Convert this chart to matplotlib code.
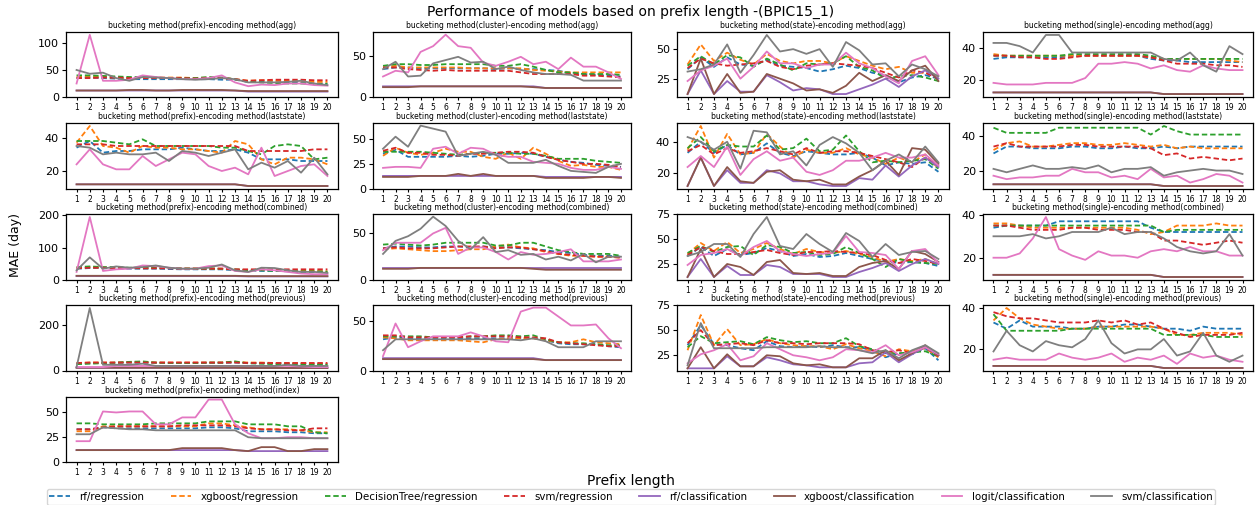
import matplotlib
matplotlib.use("Agg")
import matplotlib.pyplot as plt
from matplotlib.lines import Line2D

prefix_lengths = list(range(1, 21))
series_names = ["rf/regression", "xgboost/regression", "DecisionTree/regression", "svm/regression",
                "rf/classification", "xgboost/classification", "logit/classification", "svm/classification"]
series_colors = ["#1f77b4", "#ff7f0e", "#2ca02c", "#d62728", "#9467bd", "#8c564b", "#e377c2", "#7f7f7f"]
series_styles = ["--", "--", "--", "--", "-", "-", "-", "-"]

L12 = [12] * 13 + [11] * 7

# order: rf_reg, xgb_reg, dt_reg, svm_reg, rf_cls, xgb_cls, logit_cls, svm_cls
prefix_agg = [
    [35, 36, 35, 34, 33, 33, 33, 33, 33, 33, 33, 32, 32, 28, 28, 27, 27, 26, 25, 25],
    [37, 38, 37, 36, 35, 36, 36, 36, 36, 35, 36, 35, 33, 30, 31, 30, 30, 29, 28, 28],
    [40, 40, 39, 38, 37, 37, 36, 35, 35, 35, 37, 36, 33, 28, 27, 26, 25, 25, 24, 24],
    [35, 35, 36, 36, 35, 35, 35, 35, 35, 34, 35, 35, 33, 30, 31, 32, 32, 32, 31, 31],
    [12, 12, 12, 12, 12, 12, 12, 12, 12, 12, 12, 12, 12, 10, 10, 10, 10, 10, 10, 10],
    [12, 12, 12, 12, 13, 13, 12, 12, 13, 13, 13, 13, 12, 11, 11, 11, 11, 11, 11, 11],
    [25, 115, 30, 30, 32, 40, 37, 35, 33, 33, 35, 40, 27, 20, 23, 22, 25, 25, 22, 21],
    [50, 43, 45, 35, 30, 37, 36, 35, 33, 32, 33, 35, 33, 27, 27, 27, 28, 30, 25, 22],
]
cluster_agg = [
    [34, 36, 36, 35, 35, 35, 35, 35, 35, 34, 35, 34, 34, 33, 32, 29, 28, 27, 26, 25],
    [36, 38, 36, 36, 36, 36, 36, 35, 35, 35, 35, 35, 33, 32, 31, 30, 30, 30, 30, 30],
    [38, 40, 40, 39, 39, 40, 40, 40, 40, 38, 38, 40, 37, 33, 30, 30, 28, 28, 28, 27],
    [36, 36, 34, 33, 32, 33, 32, 32, 32, 32, 32, 30, 28, 28, 28, 28, 26, 26, 25, 24],
    [13, 13, 13, 13, 13, 13, 13, 13, 13, 13, 13, 13, 13, 11, 11, 11, 11, 11, 11, 11],
    [12, 12, 12, 13, 13, 13, 13, 13, 13, 13, 13, 13, 12, 11, 11, 11, 11, 11, 11, 11],
    [25, 32, 30, 55, 62, 76, 62, 60, 42, 38, 43, 49, 40, 43, 34, 48, 37, 37, 30, 22],
    [34, 43, 25, 26, 41, 45, 49, 42, 43, 34, 37, 33, 30, 28, 28, 27, 20, 20, 20, 20],
]
state_agg = [
    [33, 43, 35, 43, 37, 36, 41, 36, 35, 34, 31, 33, 36, 34, 30, 28, 22, 26, 28, 25],
    [37, 54, 40, 47, 41, 37, 46, 40, 38, 40, 40, 38, 44, 40, 36, 33, 35, 30, 30, 27],
    [36, 44, 37, 45, 43, 35, 42, 37, 32, 38, 37, 38, 44, 35, 32, 25, 27, 28, 26, 23],
    [34, 42, 38, 36, 37, 38, 40, 35, 33, 36, 37, 38, 37, 36, 34, 30, 26, 32, 30, 25],
    [12, 32, 12, 23, 14, 14, 28, 22, 15, 17, 16, 12, 12, 16, 20, 25, 18, 27, 32, 25],
    [12, 42, 12, 29, 13, 14, 29, 25, 21, 15, 16, 13, 19, 30, 23, 28, 23, 32, 36, 23],
    [23, 32, 36, 42, 25, 35, 48, 38, 38, 34, 37, 37, 47, 38, 34, 27, 21, 40, 44, 28],
    [31, 33, 37, 54, 30, 45, 62, 48, 50, 46, 50, 35, 56, 49, 37, 38, 27, 37, 33, 27],
]
single_agg = [
    [33, 34, 34, 34, 34, 34, 35, 35, 35, 35, 35, 35, 33, 32, 32, 31, 31, 31, 31, 31],
    [36, 35, 35, 35, 35, 35, 35, 35, 35, 35, 35, 35, 34, 33, 33, 33, 33, 33, 32, 31],
    [35, 35, 35, 35, 35, 35, 36, 36, 36, 36, 36, 36, 35, 33, 33, 33, 33, 33, 33, 33],
    [35, 35, 34, 34, 33, 33, 34, 35, 35, 35, 35, 35, 34, 32, 30, 30, 30, 29, 29, 28],
    L12,
    L12,
    [18, 17, 17, 17, 18, 18, 18, 21, 30, 30, 31, 30, 27, 29, 26, 25, 29, 27, 26, 26],
    [43, 43, 41, 37, 48, 48, 37, 37, 37, 37, 37, 37, 37, 33, 32, 37, 29, 25, 41, 36],
]
prefix_laststate = [
    [34, 38, 31, 32, 32, 33, 33, 33, 34, 33, 32, 32, 33, 31, 27, 27, 27, 26, 26, 26],
    [37, 47, 35, 34, 31, 35, 34, 34, 33, 33, 32, 31, 38, 36, 27, 24, 28, 28, 27, 24],
    [38, 38, 38, 37, 36, 39, 35, 35, 35, 35, 35, 34, 34, 32, 30, 35, 36, 35, 27, 28],
    [36, 36, 36, 35, 35, 35, 35, 35, 35, 35, 35, 35, 35, 32, 32, 32, 32, 32, 33, 33],
    L12,
    L12,
    [24, 33, 24, 21, 21, 29, 23, 27, 31, 30, 23, 20, 22, 18, 34, 17, 20, 23, 24, 17],
    [35, 34, 30, 31, 30, 30, 31, 26, 32, 31, 29, 31, 33, 21, 25, 22, 26, 19, 28, 18],
]
cluster_laststate = [
    [35, 39, 32, 32, 32, 32, 33, 32, 33, 35, 35, 36, 35, 32, 29, 27, 26, 24, 23, 22],
    [33, 41, 36, 34, 36, 40, 37, 37, 32, 30, 36, 30, 41, 35, 28, 23, 24, 22, 22, 19],
    [37, 37, 37, 37, 36, 35, 34, 35, 36, 36, 36, 35, 35, 33, 30, 30, 30, 28, 27, 26],
    [38, 41, 36, 36, 34, 34, 33, 35, 35, 36, 37, 37, 36, 32, 29, 27, 25, 25, 24, 22],
    [13, 13, 13, 13, 13, 13, 13, 13, 13, 13, 13, 13, 13, 12, 12, 12, 12, 12, 12, 12],
    [12, 12, 12, 13, 13, 13, 15, 13, 15, 13, 13, 13, 13, 11, 11, 11, 11, 12, 12, 11],
    [21, 22, 22, 21, 40, 42, 35, 41, 40, 34, 32, 32, 27, 26, 25, 21, 19, 19, 22, 20],
    [40, 52, 42, 63, 60, 57, 33, 35, 37, 34, 26, 26, 26, 29, 23, 18, 17, 16, 22, 25],
]
state_laststate = [
    [33, 40, 33, 38, 32, 33, 39, 33, 31, 34, 33, 32, 32, 33, 30, 25, 27, 26, 27, 21],
    [35, 50, 30, 45, 32, 33, 45, 37, 30, 35, 33, 33, 36, 32, 30, 26, 30, 27, 32, 23],
    [36, 43, 34, 38, 37, 37, 44, 35, 36, 42, 34, 35, 44, 34, 27, 28, 27, 28, 29, 23],
    [34, 38, 32, 36, 33, 34, 36, 34, 32, 36, 33, 34, 34, 33, 31, 29, 27, 24, 30, 25],
    [12, 30, 12, 22, 14, 14, 22, 20, 15, 15, 13, 12, 12, 17, 16, 25, 18, 25, 30, 24],
    [12, 30, 12, 24, 15, 14, 21, 22, 16, 15, 16, 13, 13, 18, 22, 28, 19, 36, 35, 26],
    [24, 31, 24, 37, 19, 29, 34, 28, 30, 21, 19, 22, 28, 28, 30, 33, 30, 30, 32, 25],
    [43, 40, 35, 40, 23, 47, 46, 32, 34, 25, 38, 43, 39, 33, 22, 28, 32, 27, 37, 27],
]
single_laststate = [
    [30, 34, 34, 33, 33, 33, 34, 34, 33, 33, 34, 33, 33, 34, 33, 34, 34, 34, 34, 34],
    [32, 36, 37, 34, 34, 35, 36, 36, 35, 35, 36, 35, 34, 35, 33, 34, 33, 33, 33, 33],
    [45, 42, 42, 42, 42, 45, 45, 45, 45, 45, 45, 45, 41, 46, 43, 41, 41, 41, 41, 41],
    [34, 36, 34, 34, 34, 34, 35, 35, 34, 34, 34, 34, 33, 29, 30, 27, 28, 27, 26, 27],
    L12,
    L12,
    [17, 15, 16, 16, 17, 17, 21, 19, 19, 16, 17, 15, 21, 16, 17, 13, 15, 18, 17, 13],
    [21, 19, 21, 23, 21, 21, 22, 21, 23, 19, 21, 21, 22, 17, 19, 20, 21, 20, 20, 18],
]
prefix_combined = [
    [35, 37, 37, 35, 35, 35, 35, 34, 33, 33, 33, 33, 30, 30, 28, 28, 27, 25, 25, 24],
    [38, 40, 38, 38, 37, 38, 38, 37, 36, 36, 36, 35, 32, 31, 32, 31, 30, 28, 28, 27],
    [40, 42, 40, 40, 38, 38, 38, 37, 36, 35, 35, 35, 33, 30, 30, 28, 28, 27, 27, 26],
    [36, 38, 38, 37, 37, 36, 36, 36, 35, 35, 35, 35, 33, 33, 33, 33, 33, 33, 33, 33],
    L12,
    [13, 13, 13, 13, 13, 13, 13, 13, 13, 13, 13, 13, 13, 12, 12, 12, 12, 12, 12, 12],
    [25, 195, 28, 33, 35, 45, 43, 38, 35, 35, 43, 45, 28, 25, 33, 30, 25, 20, 18, 18],
    [30, 70, 35, 42, 38, 40, 45, 38, 35, 35, 38, 48, 30, 25, 38, 37, 30, 25, 25, 22],
]
cluster_combined = [
    [34, 36, 36, 35, 35, 36, 36, 35, 36, 35, 35, 34, 33, 32, 30, 29, 27, 26, 26, 25],
    [33, 34, 33, 32, 31, 31, 32, 33, 33, 36, 38, 35, 34, 30, 28, 26, 26, 25, 25, 24],
    [38, 39, 38, 37, 38, 40, 40, 40, 40, 37, 37, 40, 40, 36, 32, 30, 28, 28, 28, 26],
    [34, 35, 34, 34, 34, 35, 36, 36, 36, 34, 35, 35, 33, 31, 28, 27, 26, 25, 25, 24],
    [13, 13, 13, 13, 13, 13, 13, 13, 13, 13, 13, 13, 13, 13, 13, 13, 13, 13, 13, 13],
    [12, 12, 12, 13, 13, 13, 13, 13, 13, 13, 13, 13, 12, 11, 11, 11, 11, 11, 11, 11],
    [32, 40, 40, 40, 50, 56, 28, 35, 35, 30, 22, 30, 27, 28, 30, 33, 20, 20, 20, 22],
    [28, 42, 47, 55, 68, 58, 42, 33, 46, 30, 32, 27, 28, 22, 25, 21, 28, 19, 25, 25],
]
state_combined = [
    [33, 42, 33, 40, 34, 36, 41, 38, 33, 35, 32, 33, 36, 33, 30, 28, 26, 27, 26, 23],
    [35, 46, 38, 47, 36, 40, 46, 40, 35, 40, 37, 36, 38, 35, 32, 27, 30, 28, 30, 25],
    [36, 43, 37, 42, 43, 34, 44, 42, 36, 37, 34, 35, 42, 36, 30, 22, 30, 27, 26, 25],
    [34, 42, 38, 35, 35, 37, 39, 36, 34, 37, 37, 38, 37, 36, 34, 29, 26, 30, 28, 25],
    [12, 30, 12, 23, 14, 14, 24, 22, 15, 15, 15, 12, 12, 17, 21, 26, 18, 25, 30, 25],
    [12, 40, 12, 25, 22, 14, 27, 29, 16, 15, 16, 13, 13, 22, 26, 28, 20, 38, 35, 27],
    [24, 34, 36, 40, 33, 42, 48, 38, 35, 33, 35, 36, 53, 37, 36, 34, 20, 38, 40, 26],
    [33, 37, 45, 45, 32, 55, 72, 43, 40, 55, 45, 37, 56, 48, 32, 45, 34, 37, 38, 30],
]
single_combined = [
    [34, 35, 35, 35, 35, 37, 37, 37, 37, 37, 37, 37, 34, 32, 32, 32, 32, 32, 32, 32],
    [36, 36, 35, 34, 34, 34, 34, 34, 34, 34, 34, 33, 31, 32, 35, 35, 35, 36, 35, 35],
    [35, 35, 35, 35, 35, 35, 35, 35, 35, 35, 35, 35, 35, 32, 33, 33, 33, 33, 33, 33],
    [35, 35, 34, 33, 33, 33, 34, 34, 33, 33, 33, 32, 32, 28, 28, 27, 26, 27, 28, 27],
    L12,
    L12,
    [20, 20, 22, 29, 39, 24, 21, 19, 23, 21, 21, 20, 23, 24, 23, 25, 23, 23, 21, 21],
    [30, 30, 30, 31, 29, 30, 32, 32, 32, 34, 31, 32, 32, 29, 25, 23, 22, 23, 31, 21],
]
prefix_previous = [
    [30, 32, 33, 33, 35, 35, 33, 33, 33, 33, 33, 33, 35, 32, 32, 32, 30, 30, 28, 28],
    [32, 35, 35, 35, 37, 37, 35, 35, 35, 35, 35, 35, 38, 35, 35, 33, 33, 32, 30, 30],
    [28, 30, 32, 35, 38, 40, 35, 33, 33, 33, 35, 35, 40, 32, 30, 28, 28, 26, 25, 25],
    [33, 35, 35, 35, 35, 35, 35, 35, 35, 35, 35, 35, 35, 33, 33, 33, 33, 33, 33, 33],
    L12,
    L12,
    [15, 15, 15, 20, 20, 20, 20, 20, 20, 20, 20, 20, 20, 20, 20, 20, 20, 18, 15, 15],
    [15, 275, 25, 25, 25, 30, 20, 20, 20, 20, 20, 20, 20, 20, 20, 20, 25, 20, 20, 20],
]
cluster_previous = [
    [32, 34, 33, 33, 33, 33, 33, 33, 33, 33, 33, 33, 33, 31, 28, 27, 27, 27, 25, 24],
    [34, 33, 31, 31, 31, 31, 31, 30, 29, 32, 33, 33, 33, 31, 29, 29, 32, 29, 28, 27],
    [35, 35, 35, 35, 34, 34, 34, 35, 35, 36, 36, 35, 36, 32, 29, 28, 28, 27, 26, 26],
    [36, 36, 34, 34, 34, 34, 34, 35, 35, 35, 35, 34, 34, 33, 29, 28, 27, 26, 25, 25],
    [13, 13, 13, 13, 13, 13, 13, 13, 13, 13, 13, 13, 13, 11, 11, 11, 11, 11, 11, 11],
    L12,
    [15, 48, 24, 30, 35, 35, 35, 39, 35, 30, 29, 60, 64, 64, 55, 46, 46, 47, 33, 23],
    [21, 32, 32, 32, 32, 32, 32, 32, 32, 32, 32, 31, 33, 30, 24, 24, 24, 30, 30, 30],
]
state_previous = [
    [35, 55, 36, 35, 32, 30, 39, 34, 33, 34, 33, 35, 33, 33, 30, 23, 27, 26, 32, 20],
    [30, 65, 35, 51, 35, 36, 41, 37, 35, 34, 34, 31, 36, 32, 29, 24, 31, 29, 32, 23],
    [33, 44, 37, 38, 39, 36, 43, 40, 38, 39, 37, 37, 42, 34, 31, 27, 27, 28, 29, 24],
    [37, 50, 35, 36, 37, 35, 40, 37, 37, 36, 37, 37, 37, 36, 30, 28, 30, 27, 33, 24],
    [12, 12, 12, 24, 14, 14, 23, 20, 16, 15, 13, 13, 13, 17, 18, 28, 18, 26, 33, 25],
    [12, 33, 12, 26, 14, 14, 25, 24, 17, 15, 16, 13, 13, 22, 22, 30, 20, 27, 35, 25],
    [17, 26, 30, 36, 20, 24, 37, 31, 25, 23, 20, 23, 31, 30, 28, 35, 25, 28, 33, 26],
    [15, 57, 32, 32, 32, 32, 33, 33, 33, 33, 34, 33, 33, 30, 27, 30, 22, 30, 35, 27],
]
single_previous = [
    [33, 30, 34, 31, 31, 31, 30, 30, 31, 31, 32, 32, 31, 30, 30, 29, 31, 30, 30, 30],
    [34, 40, 35, 32, 31, 30, 30, 30, 31, 31, 31, 31, 31, 30, 27, 27, 28, 28, 28, 27],
    [37, 29, 29, 29, 29, 29, 30, 30, 30, 30, 30, 30, 30, 27, 27, 27, 27, 26, 26, 26],
    [38, 36, 35, 35, 34, 33, 33, 33, 34, 33, 34, 32, 33, 30, 28, 26, 27, 27, 27, 28],
    L12,
    L12,
    [15, 16, 15, 15, 15, 18, 16, 15, 16, 18, 14, 16, 15, 17, 13, 18, 16, 17, 15, 14],
    [19, 29, 22, 19, 24, 22, 21, 25, 34, 23, 18, 20, 20, 25, 17, 19, 28, 17, 14, 17],
]
prefix_index = [
    [33, 33, 35, 34, 34, 34, 34, 34, 34, 34, 35, 35, 34, 31, 31, 31, 30, 30, 29, 29],
    [31, 31, 36, 36, 36, 36, 36, 36, 36, 36, 39, 39, 37, 35, 33, 33, 33, 32, 30, 30],
    [39, 39, 38, 38, 38, 38, 39, 39, 39, 39, 41, 41, 41, 38, 38, 38, 36, 36, 30, 29],
    [33, 33, 35, 36, 36, 36, 36, 36, 37, 37, 37, 37, 36, 34, 33, 33, 32, 32, 34, 34],
    [12, 12, 12, 12, 12, 12, 12, 12, 12, 12, 12, 12, 12, 11, 11, 11, 11, 11, 11, 11],
    [12, 12, 12, 12, 12, 12, 12, 12, 14, 14, 14, 14, 12, 11, 15, 15, 11, 11, 13, 13],
    [21, 21, 51, 50, 51, 51, 38, 38, 45, 45, 63, 63, 38, 29, 24, 24, 25, 25, 24, 24],
    [28, 28, 35, 34, 33, 33, 32, 32, 32, 32, 32, 32, 32, 25, 24, 24, 24, 24, 24, 24],
]

panels = [
    ("prefix", "agg", prefix_agg, [0, 50, 100]),
    ("cluster", "agg", cluster_agg, [0, 50]),
    ("state", "agg", state_agg, [25, 50]),
    ("single", "agg", single_agg, [20, 40]),
    ("prefix", "laststate", prefix_laststate, [20, 40]),
    ("cluster", "laststate", cluster_laststate, [0, 25, 50]),
    ("state", "laststate", state_laststate, [20, 40]),
    ("single", "laststate", single_laststate, [20, 40]),
    ("prefix", "combined", prefix_combined, [0, 100, 200]),
    ("cluster", "combined", cluster_combined, [0, 50]),
    ("state", "combined", state_combined, [25, 50, 75]),
    ("single", "combined", single_combined, [20, 40]),
    ("prefix", "previous", prefix_previous, [0, 200]),
    ("cluster", "previous", cluster_previous, [0, 50]),
    ("state", "previous", state_previous, [25, 50, 75]),
    ("single", "previous", single_previous, [20, 40]),
    ("prefix", "index", prefix_index, [0, 25, 50]),
]

W, H = 1256, 505
fig = plt.figure(figsize=(W / 100, H / 100), dpi=100)

col_x = [(66, 338), (373, 631), (677, 949), (983, 1253)]
row_y = [(32, 97), (123, 189), (214, 280), (305, 371), (397, 462)]

LW = 1.3
DASH = (3.0, 1.6)


def style_kwargs(ls):
    if ls == "--":
        return {"linestyle": (0, DASH)}
    return {"linestyle": "-"}


for i, (bucket, enc, data, yt) in enumerate(panels):
    r, c = divmod(i, 4)
    x0, x1 = col_x[c]
    y0, y1 = row_y[r]
    ax = fig.add_axes([x0 / W, 1 - y1 / H, (x1 - x0) / W, (y1 - y0) / H])
    for vals, name, col, ls in zip(data, series_names, series_colors, series_styles):
        ax.plot(prefix_lengths, vals, color=col, linewidth=LW, label=name, **style_kwargs(ls))
    ax.set_xticks(prefix_lengths)
    ax.set_xticklabels([str(p) for p in prefix_lengths], fontsize=5.5)
    ax.set_yticks(yt)
    ax.tick_params(axis="y", labelsize=8, length=3, pad=2)
    ax.tick_params(axis="x", length=2.5, pad=2)
    ax.set_xlim(0.2, 20.8)
    ax.set_title(f"bucketing method({bucket})-encoding method({enc})", fontsize=5.5, pad=3)
    for s in ax.spines.values():
        s.set_linewidth(0.9)

fig.suptitle("Performance of models based on prefix length -(BPIC15_1)", fontsize=10, x=0.502, y=0.99)
fig.text(15 / W, 1 - 245 / H, "MAE (day)", rotation=90, fontsize=9, ha="center", va="center")
fig.text(631 / W, 1 - 481 / H, "Prefix length", fontsize=10, ha="center", va="center")

handles = [Line2D([0], [0], color=c, linewidth=LW, **style_kwargs(ls))
           for c, ls in zip(series_colors, series_styles)]
fig.legend(handles, series_names, loc="center", bbox_to_anchor=(631 / W, 1 - 497 / H), ncol=8,
           fontsize=7.4, frameon=True, handlelength=2.0, columnspacing=2.6, borderpad=0.25,
           handletextpad=0.9)

fig.savefig("out.png", dpi=100)
